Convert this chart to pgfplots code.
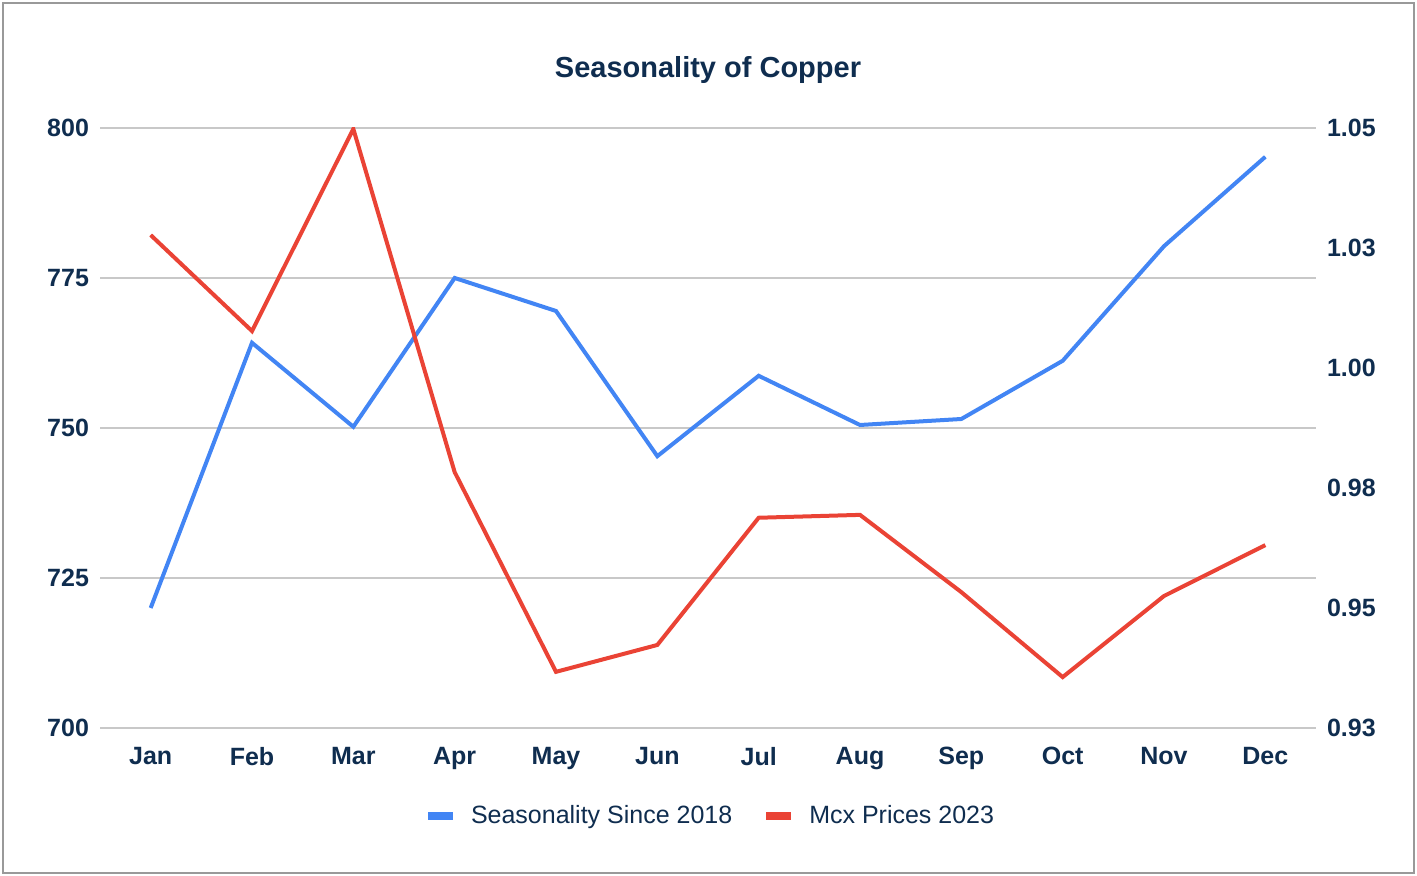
\documentclass[border=0pt]{standalone}
\usepackage{pgfplots}
\pgfplotsset{compat=1.18}
\usepackage{fontspec}
\setmainfont{Liberation Sans}
\definecolor{serieA}{HTML}{4285F4}
\definecolor{serieB}{HTML}{EA4335}
\definecolor{texte}{HTML}{0F2D4F}
\definecolor{grille}{HTML}{C8C8C8}

\pgfplotsset{
  base/.style={
    scale only axis, width=608pt, height=300pt,
    xmin=-0.5, xmax=11.5,
    axis line style={draw=none}, major tick length=0pt,
    tick label style={font=\fontsize{12.5}{14}\selectfont\bfseries, text=texte},
    /pgf/number format/assume math mode=true,
  }
}

\begin{document}
\begin{tikzpicture}
\begin{axis}[base, name=gauche,
  ymin=700, ymax=800, ytick={700,725,750,775,800},
  ymajorgrids, grid style={grille, line width=0.8pt},
  xtick={0,...,11}, xticklabels={Jan,Feb,Mar,Apr,May,Jun,Jul,Aug,Sep,Oct,Nov,Dec},
  xticklabel style={yshift=-6pt}, yticklabel style={xshift=-2pt},
  legend style={at={(0.5025,-0.147)}, anchor=center, draw=none, font=\fontsize{12.5}{14}\selectfont, text=texte,
    /tikz/every even column/.append style={column sep=13pt},
    /tikz/every odd column/.append style={column sep=5pt}},
  legend columns=2,
  legend image code/.code={\draw[line width=4pt] (0pt,0pt) -- (12.5pt,0pt);},
]
  \addplot[serieA, line width=2pt] coordinates {
    (0,720) (1,764.2) (2,750.2) (3,775) (4,769.5) (5,745.3)
    (6,758.7) (7,750.5) (8,751.5) (9,761.2) (10,780.3) (11,795.2)};
  \addlegendentry{Seasonality Since 2018}
  \addlegendimage{serieB, line width=2pt}
  \addlegendentry{Mcx Prices 2023}
\end{axis}
\begin{axis}[base, axis y line*=right, axis x line=none,
  ymin=0.925, ymax=1.05, ytick={0.925,0.95,0.975,1,1.025,1.05},
  yticklabels={0.93,0.95,0.98,1.00,1.03,1.05}, yticklabel style={xshift=2pt},
]
  \addplot[serieB, line width=2pt] coordinates {
    (0,1.0277) (1,1.0077) (2,1.0498) (3,0.9783) (4,0.9367) (5,0.9423)
    (6,0.9688) (7,0.9694) (8,0.9533) (9,0.9356) (10,0.9525) (11,0.9631)};
\end{axis}
\node[font=\fontsize{14.5}{16}\selectfont\bfseries, text=texte, yshift=29pt] at (gauche.north) {Seasonality of Copper};
\useasboundingbox (gauche.south west) ++(-50pt,-74pt) rectangle ++(708.5pt,438pt);
\draw[gray!80, line width=1pt] (gauche.south west) ++(-48.5pt,-72.5pt) rectangle ++(705.5pt,435pt);
\end{tikzpicture}
\end{document}
